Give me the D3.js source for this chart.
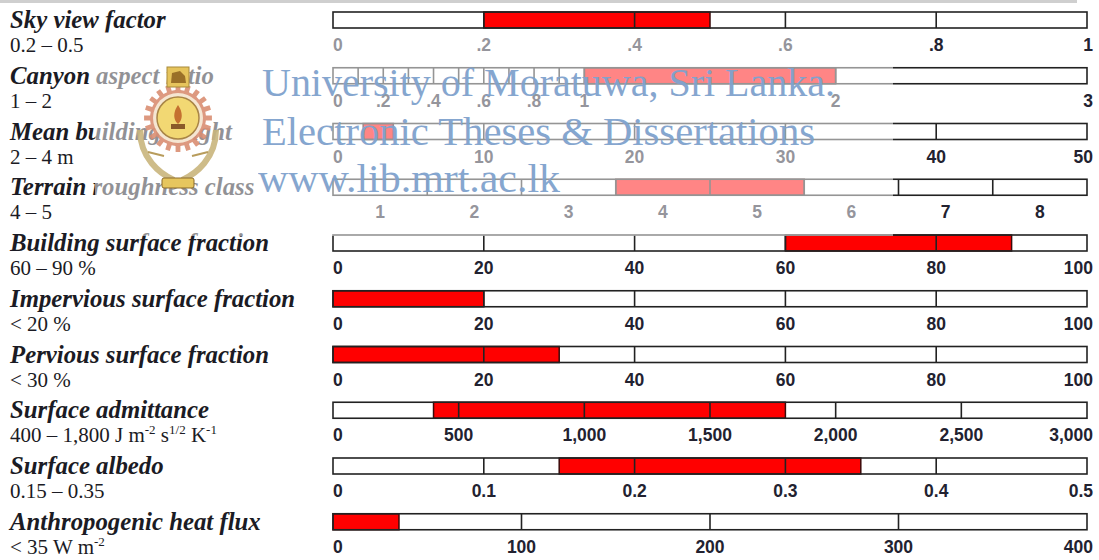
<!DOCTYPE html>
<html>
<head>
<meta charset="utf-8">
<script src="https://cdn.jsdelivr.net/npm/d3@7"></script>
<style>
  html, body { margin: 0; padding: 0; background: #fff; }
  svg { display: block; }
</style>
</head>
<body>
<svg id="chart" width="1099" height="560"></svg>
<script>
// Urban climate zone properties: allowed range of each property on its own scale
const properties = [
  "Sky view factor", "Canyon aspect ratio", "Mean building height",
  "Terrain roughness class", "Building surface fraction",
  "Impervious surface fraction", "Pervious surface fraction",
  "Surface admittance", "Surface albedo", "Anthropogenic heat flux"
];
const rangeTexts = [
  "0.2 – 0.5", "1 – 2", "2 – 4 m", "4 – 5", "60 – 90 %", "< 20 %", "< 30 %",
  "400 – 1,800 J m^-2 s^1/2 K^-1", "0.15 – 0.35", "< 35 W m^-2"
];
const domainMin = [0, 0, 0, 0.5, 0, 0, 0, 0, 0, 0];
const domainMax = [1, 3, 50, 8.5, 100, 100, 100, 3000, 0.5, 400];
const rangeLow  = [0.2, 1, 2, 3.5, 60, 0, 0, 400, 0.15, 0];
const rangeHigh = [0.5, 2, 4, 5.5, 90, 20, 30, 1800, 0.35, 35];
const gridValues = [
  [0.2, 0.4, 0.6, 0.8],
  [0.1, 0.2, 0.3, 0.4, 0.5, 0.6, 0.7, 0.8, 0.9, 1, 2],
  [10, 20, 30, 40],
  [1.5, 2.5, 3.5, 4.5, 5.5, 6.5, 7.5],
  [20, 40, 60, 80],
  [20, 40, 60, 80],
  [20, 40, 60, 80],
  [500, 1000, 1500, 2000, 2500],
  [0.1, 0.2, 0.3, 0.4],
  [100, 200, 300]
];
const tickValues = [
  [0, 0.2, 0.4, 0.6, 0.8, 1],
  [0, 0.2, 0.4, 0.6, 0.8, 1, 2, 3],
  [0, 10, 20, 30, 40, 50],
  [1, 2, 3, 4, 5, 6, 7, 8],
  [0, 20, 40, 60, 80, 100],
  [0, 20, 40, 60, 80, 100],
  [0, 20, 40, 60, 80, 100],
  [0, 500, 1000, 1500, 2000, 2500, 3000],
  [0, 0.1, 0.2, 0.3, 0.4, 0.5],
  [0, 100, 200, 300, 400]
];
const tickLabels = [
  ["0", ".2", ".4", ".6", ".8", "1"],
  ["0", ".2", ".4", ".6", ".8", "1", "2", "3"],
  ["0", "10", "20", "30", "40", "50"],
  ["1", "2", "3", "4", "5", "6", "7", "8"],
  ["0", "20", "40", "60", "80", "100"],
  ["0", "20", "40", "60", "80", "100"],
  ["0", "20", "40", "60", "80", "100"],
  ["0", "500", "1,000", "1,500", "2,000", "2,500", "3,000"],
  ["0", "0.1", "0.2", "0.3", "0.4", "0.5"],
  ["0", "100", "200", "300", "400"]
];
// classes are labelled at cell centres rather than at the bar ends
const centredLabels = [false, false, false, true, false, false, false, false, false, false];

const watermarkLines = [
  "University of Moratuwa, Sri Lanka.",
  "Electronic Theses & Dissertations",
  "www.lib.mrt.ac.lk"
];

const svg = d3.select("#chart");
const barLeft = 333, barRight = 1087, barH = 16;
const rowStep = 55.75, firstBarTop = 12;
const serif = "'Liberation Serif', 'Times New Roman', serif";
const sans = "'Liberation Sans', Arial, sans-serif";

svg.append("rect").attr("x", 0).attr("y", 0).attr("width", 1077).attr("height", 3)
  .attr("fill", "#cfcfcf");

const rows = svg.selectAll("g.row").data(properties).join("g")
  .attr("class", "row")
  .attr("transform", (d, i) => `translate(0,${firstBarTop + i * rowStep})`);

rows.each(function(name, i) {
  const g = d3.select(this);
  const x = d3.scaleLinear().domain([domainMin[i], domainMax[i]]).range([barLeft, barRight]);

  // property title
  g.append("text").attr("x", 10).attr("y", 16)
    .attr("font-family", serif).attr("font-style", "italic").attr("font-weight", "bold")
    .attr("font-size", 24.8).attr("fill", "#1b1b24")
    .text(name);

  // allowed range, with superscript exponents
  const sub = g.append("text").attr("x", 10).attr("y", 40)
    .attr("font-family", serif).attr("font-size", 21).attr("fill", "#1b1b24");
  let raised = false;
  rangeTexts[i].split(/(\^\S+)/).filter(s => s.length).forEach(part => {
    if (part.startsWith("^")) {
      sub.append("tspan").attr("font-size", 13).attr("dy", raised ? 0 : -8).text(part.slice(1));
      raised = true;
    } else {
      sub.append("tspan").attr("dy", raised ? 8 : 0).text(part);
      raised = false;
    }
  });

  // empty bar
  g.append("rect").attr("x", barLeft).attr("y", 0)
    .attr("width", barRight - barLeft).attr("height", barH)
    .attr("fill", "#fff");
  // allowed range fill
  g.append("rect")
    .attr("x", x(rangeLow[i])).attr("y", 0)
    .attr("width", x(rangeHigh[i]) - x(rangeLow[i])).attr("height", barH)
    .attr("fill", "#ff0000").attr("stroke", "#3a0a0a").attr("stroke-width", 1.5);
  // grid divisions
  g.selectAll("line.grid").data(gridValues[i]).join("line").attr("class", "grid")
    .attr("x1", d => x(d)).attr("x2", d => x(d)).attr("y1", 0).attr("y2", barH)
    .attr("stroke", "#222").attr("stroke-width", 1.6);
  // outline
  g.append("rect").attr("x", barLeft).attr("y", 0)
    .attr("width", barRight - barLeft).attr("height", barH)
    .attr("fill", "none").attr("stroke", "#222").attr("stroke-width", 1.6);

  // tick labels
  const n = tickValues[i].length;
  g.selectAll("text.tick").data(tickValues[i]).join("text").attr("class", "tick")
    .attr("x", (d, j) => centredLabels[i] ? x(d)
      : j === n - 1 ? x(d) + 6 : x(d))
    .attr("y", 39)
    .attr("text-anchor", (d, j) => centredLabels[i] ? "middle"
      : j === 0 ? "start" : j === n - 1 ? "end" : "middle")
    .attr("font-family", sans).attr("font-weight", "bold").attr("font-size", 17.5)
    .attr("fill", "#222230")
    .text((d, j) => tickLabels[i][j]);
});

// repository watermark: faded panel, crest and text
svg.append("rect").attr("x", 95).attr("y", 32).attr("width", 798).attr("height", 204)
  .attr("fill", "#fff").attr("opacity", 0.52);

const crest = svg.append("g").attr("transform", "translate(178,118)");
// laurel branches
crest.append("path")
  .attr("d", "M-38,12 C-38,40 -18,56 -4,62 M38,12 C38,40 18,56 4,62")
  .attr("fill", "none").attr("stroke", "#c9b57c").attr("stroke-width", 6).attr("opacity", 0.9);
crest.append("path")
  .attr("d", "M-30,34 L-14,38 M30,34 L14,38")
  .attr("stroke", "#b89c5c").attr("stroke-width", 2);
// gear wheel
const teeth = 20, rOut = 34, rIn = 28;
const gearPts = [];
for (let k = 0; k < teeth * 2; k++) {
  const a = k * Math.PI / teeth;
  const r = k % 2 === 0 ? rOut : rIn;
  gearPts.push([r * Math.cos(a - 0.07), r * Math.sin(a - 0.07)]);
  gearPts.push([r * Math.cos(a + 0.07), r * Math.sin(a + 0.07)]);
}
crest.append("path").attr("d", d3.line().curve(d3.curveLinearClosed)(gearPts))
  .attr("fill", "#d98e72").attr("opacity", 0.9);
crest.append("circle").attr("r", 25).attr("fill", "#f5e6d2");
crest.append("circle").attr("r", 21).attr("fill", "#f2d873").attr("stroke", "#a98546").attr("stroke-width", 1.5);
crest.append("path").attr("d", "M0,-13 C5,-6 5,2 0,6 C-5,2 -5,-6 0,-13 Z").attr("fill", "#c47030");
crest.append("rect").attr("x", -7).attr("y", 6).attr("width", 14).attr("height", 5).attr("fill", "#8a5a2a");
// lion banner on top
crest.append("rect").attr("x", -11).attr("y", -51).attr("width", 22).attr("height", 20)
  .attr("fill", "#e6c45c").attr("stroke", "#a88a3a").attr("stroke-width", 1);
crest.append("path").attr("d", "M-7,-35 L-6,-45 L2,-47 L7,-42 L8,-35 Z").attr("fill", "#9a7028");
// scroll at the bottom
crest.append("rect").attr("x", -16).attr("y", 60).attr("width", 32).attr("height", 10)
  .attr("rx", 2).attr("fill", "#e6c65e").attr("stroke", "#8b6a2a").attr("stroke-width", 1);

const wmX = [262, 262, 258], wmY = [96, 145, 192], wmLen = [573, 553, 302];
svg.selectAll("text.wm").data(watermarkLines).join("text").attr("class", "wm")
  .attr("x", (d, i) => wmX[i]).attr("y", (d, i) => wmY[i])
  .attr("textLength", (d, i) => wmLen[i]).attr("lengthAdjust", "spacingAndGlyphs")
  .attr("font-family", serif).attr("font-size", 39)
  .attr("fill", "#7fa2cd").attr("opacity", 0.95)
  .text(d => d);
</script>
</body>
</html>
